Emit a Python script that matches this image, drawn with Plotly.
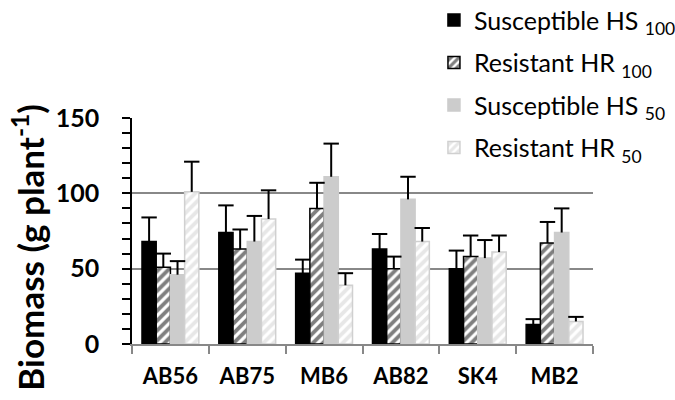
import plotly.graph_objects as go

categories = ["AB56", "AB75", "MB6", "AB82", "SK4", "MB2"]

hs100 = [68, 74, 47, 63, 50, 13]
hs100_err = [16, 18, 9, 10, 12, 3.5]
hr100 = [51, 63, 90, 50, 58, 67]
hr100_err = [9, 13, 17, 8, 14, 14]
hs50 = [46, 68, 111, 96, 57, 74]
hs50_err = [9, 17, 22, 15, 12, 16]
hr50 = [101, 83, 39, 68, 61, 15]
hr50_err = [20, 19, 8, 9, 11, 3]

names = ["Susceptible HS <sub>100</sub>", "Resistant HR <sub>100</sub>",
         "Susceptible HS <sub>50</sub>", "Resistant HR <sub>50</sub>"]
y_title = "Biomass (g plant<sup>-1</sup>)"

FONT = "Lato"

fig = go.Figure()

def add(vals, errs, name, color, line_color, pattern=None, pfg=None, grp="g"):
    marker = dict(color=color, line=dict(color=line_color, width=1.5))
    if pattern:
        marker["pattern"] = dict(shape=pattern, fgcolor=pfg, bgcolor="white",
                                 size=7, solidity=0.55, fillmode="overlay")
    fig.add_trace(go.Bar(
        x=categories, y=vals, name=name, marker=marker,
        legendgroup=grp, offsetgroup=grp,
        error_y=dict(type="data", array=errs, arrayminus=[0]*len(errs),
                     symmetric=False, color="black", thickness=2, width=0),
    ))
    # caps on top of the error bars only
    fig.add_trace(go.Scatter(
        x=categories, y=[v + e for v, e in zip(vals, errs)],
        mode="markers", offsetgroup=grp, showlegend=False, hoverinfo="skip",
        marker=dict(symbol="line-ew", size=11, color="black",
                    line=dict(color="black", width=2)),
    ))

add(hs100, hs100_err, names[0], "black", "black", grp="a")
add(hr100, hr100_err, names[1], "white", "black", "/", "black", grp="b")
add(hs50, hs50_err, names[2], "#cccccc", "#cccccc", grp="c")
add(hr50, hr50_err, names[3], "white", "#d0d0d0", "/", "#d0d0d0", grp="d")

fig.add_annotation(
    text=y_title, textangle=-90, xref="paper", yref="paper",
    x=-0.226, y=0.43, xanchor="center", yanchor="middle", showarrow=False,
    font=dict(size=35, family=FONT, weight="bold", color="black"),
)

fig.update_layout(
    width=675, height=400,
    margin=dict(l=132, r=82, t=118, b=56, autoexpand=False),
    paper_bgcolor="white", plot_bgcolor="white",
    barmode="group", bargap=0.26, bargroupgap=0,
    scattermode="group", scattergap=0.26,
    font=dict(family=FONT, color="black"),
    legend=dict(x=0.655, y=1.534, xanchor="left", yanchor="top",
                bgcolor="white", font=dict(size=25, family=FONT),
                tracegroupgap=7, itemwidth=30),
    xaxis=dict(showline=True, linecolor="#888888", linewidth=1.5,
               ticks="outside", tickson="boundaries", ticklen=8,
               tickcolor="#888888", tickwidth=1.5, ticklabelstandoff=12,
               tickfont=dict(size=22, family=FONT, color="black", weight="bold")),
    yaxis=dict(range=[0, 150], tickvals=[0, 50, 100, 150],
               showline=True, linecolor="black", linewidth=1.5,
               ticks="outside", ticklen=8, tickwidth=1.5, tickcolor="black",
               ticklabelstandoff=18,
               minor=dict(dtick=10, ticks="outside", ticklen=8, tickwidth=1.5,
                          tickcolor="black", showgrid=False),
               showgrid=True, gridcolor="#888888", gridwidth=1.5,
               zeroline=False,
               tickfont=dict(size=25, family=FONT, color="black", weight="bold")),
)

fig.write_html("out.html")
